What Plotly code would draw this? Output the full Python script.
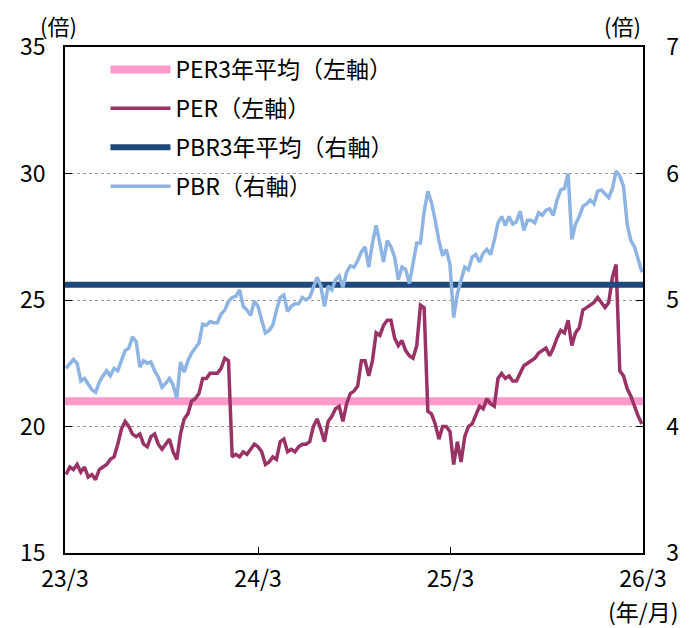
import pandas as pd
import plotly.graph_objects as go

# weekly observation dates (Fridays)
dates = pd.date_range("2023-03-03", "2026-02-27", freq="W-FRI")

per = [18.1,18.4,18.3,18.5,18.2,18.4,18.0,18.1,17.9,18.3,
       18.4,18.5,18.7,18.8,19.3,19.9,20.2,20.0,19.7,19.6,
       19.7,19.3,19.2,19.6,19.7,19.3,19.1,19.3,19.5,19.0,
       18.7,19.7,20.3,20.5,21.0,21.1,21.3,21.9,21.9,22.1,
       22.1,22.1,22.3,22.7,22.6,18.8,18.9,18.8,19.0,18.9,
       19.1,19.3,19.2,19.0,18.5,18.6,18.8,18.7,19.4,19.5,
       19.0,19.1,19.0,19.2,19.3,19.3,19.4,20.0,20.3,19.9,
       19.4,20.2,20.4,20.7,20.8,20.2,20.9,21.3,21.4,21.6,
       22.6,22.6,22.0,22.6,23.7,23.6,24.0,24.2,24.2,23.5,
       23.2,23.4,23.0,22.8,22.7,23.2,24.8,24.7,20.6,20.5,
       20.1,19.5,20.0,20.0,19.8,18.5,19.4,18.6,19.6,20.0,
       20.1,20.5,20.8,20.7,21.1,20.9,20.8,21.9,22.1,21.9,
       22.0,21.8,21.8,22.1,22.4,22.5,22.6,22.7,22.9,23.0,
       23.1,22.8,23.1,23.5,23.8,23.7,24.2,23.2,23.7,23.9,
       24.6,24.7,24.8,24.9,25.1,24.9,24.7,24.9,25.9,26.4,
       22.2,22.0,21.5,21.2,20.8,20.4,20.1]

pbr = [4.46,4.50,4.53,4.50,4.36,4.38,4.33,4.29,4.27,4.35,
       4.40,4.44,4.40,4.46,4.44,4.52,4.60,4.62,4.71,4.67,
       4.47,4.52,4.50,4.51,4.44,4.39,4.31,4.34,4.38,4.33,
       4.22,4.51,4.43,4.52,4.58,4.62,4.66,4.81,4.80,4.83,
       4.82,4.82,4.89,4.92,4.99,5.02,5.03,5.08,4.95,4.92,
       4.88,4.99,4.95,4.84,4.74,4.76,4.80,4.92,5.02,5.04,
       4.91,4.95,4.97,4.97,5.02,5.00,5.02,5.10,5.18,5.11,
       4.95,5.11,5.08,5.16,5.19,5.10,5.22,5.27,5.26,5.31,
       5.38,5.42,5.26,5.45,5.59,5.45,5.30,5.47,5.42,5.34,
       5.16,5.26,5.24,5.13,5.30,5.45,5.45,5.70,5.86,5.77,
       5.63,5.47,5.35,5.40,5.28,4.86,5.05,5.15,5.26,5.24,
       5.34,5.36,5.30,5.37,5.40,5.36,5.47,5.61,5.66,5.59,
       5.66,5.60,5.62,5.70,5.55,5.63,5.63,5.61,5.69,5.67,
       5.71,5.72,5.67,5.79,5.87,5.88,6.00,5.48,5.60,5.66,
       5.74,5.76,5.79,5.76,5.86,5.87,5.84,5.81,5.88,6.02,
       5.98,5.90,5.60,5.47,5.42,5.31,5.22]

avg_x = ["2023-03-01", "2026-03-01"]
per_avg = [21.0, 21.0]
pbr_avg = [5.12, 5.12]

tick_dates = ["2023-03-01", "2024-03-01", "2025-03-01", "2026-03-01"]
tick_text = ["23/3", "24/3", "25/3", "26/3"]

FONT = "Noto Sans CJK JP"
TF = 23

fig = go.Figure()
fig.add_trace(go.Scatter(x=avg_x, y=per_avg, mode="lines", name="PER3年平均（左軸）",
                         line=dict(color="#FF99CC", width=8), legendgroup="a"))
fig.add_trace(go.Scatter(x=dates, y=per, mode="lines", name="PER（左軸）",
                         line=dict(color="#993366", width=3.5), legendgroup="b"))
fig.add_trace(go.Scatter(x=avg_x, y=pbr_avg, mode="lines", name="PBR3年平均（右軸）",
                         line=dict(color="#1F497D", width=6), legendgroup="c", yaxis="y2"))
fig.add_trace(go.Scatter(x=dates, y=pbr, mode="lines", name="PBR（右軸）",
                         line=dict(color="#8DB4E2", width=3.5), legendgroup="d", yaxis="y2"))

fig.update_layout(
    width=696, height=628,
    margin=dict(l=55, r=61, t=39, b=83),
    paper_bgcolor="white", plot_bgcolor="white",
    font=dict(family=FONT, size=TF, color="black"),
    showlegend=True,
    legend=dict(x=0.07, y=0.998, xanchor="left", yanchor="top",
                bgcolor="rgba(0,0,0,0)", font=dict(size=23),
                traceorder="grouped", tracegroupgap=6, itemwidth=60),
    xaxis=dict(type="date", range=["2023-03-01", "2026-03-01"],
               tickvals=tick_dates, ticktext=tick_text,
               showline=True, linecolor="black", linewidth=1.5, mirror=True,
               ticks="inside", ticklen=6, tickcolor="black",
               showgrid=False, zeroline=False, ticklabelstandoff=5,
               tickfont=dict(size=TF)),
    yaxis=dict(range=[15, 35], tickvals=[15, 20, 25, 30, 35],
               showline=True, linecolor="black", linewidth=1.5,
               ticks="inside", ticklen=7, tickcolor="black",
               showgrid=True, gridcolor="#999999", griddash="dot", gridwidth=1,
               zeroline=False, ticklabelstandoff=13, tickfont=dict(size=TF)),
    yaxis2=dict(range=[3, 7], tickvals=[3, 4, 5, 6, 7], overlaying="y", side="right",
                showline=True, linecolor="black", linewidth=1.5,
                ticks="inside", ticklen=7, tickcolor="black",
                showgrid=False, zeroline=False, ticklabelstandoff=17,
                tickfont=dict(size=TF)),
    annotations=[
        dict(text="(倍)", xref="paper", yref="paper", x=-0.012, y=1.0435,
             showarrow=False, font=dict(size=22), xanchor="center", yanchor="middle"),
        dict(text="(倍)", xref="paper", yref="paper", x=0.964, y=1.0435,
             showarrow=False, font=dict(size=22), xanchor="center", yanchor="middle"),
        dict(text="(年/月)", xref="paper", yref="paper", x=1.0017, y=-0.115,
             showarrow=False, font=dict(size=TF), xanchor="center", yanchor="middle"),
    ],
)

fig.write_html("out.html")
